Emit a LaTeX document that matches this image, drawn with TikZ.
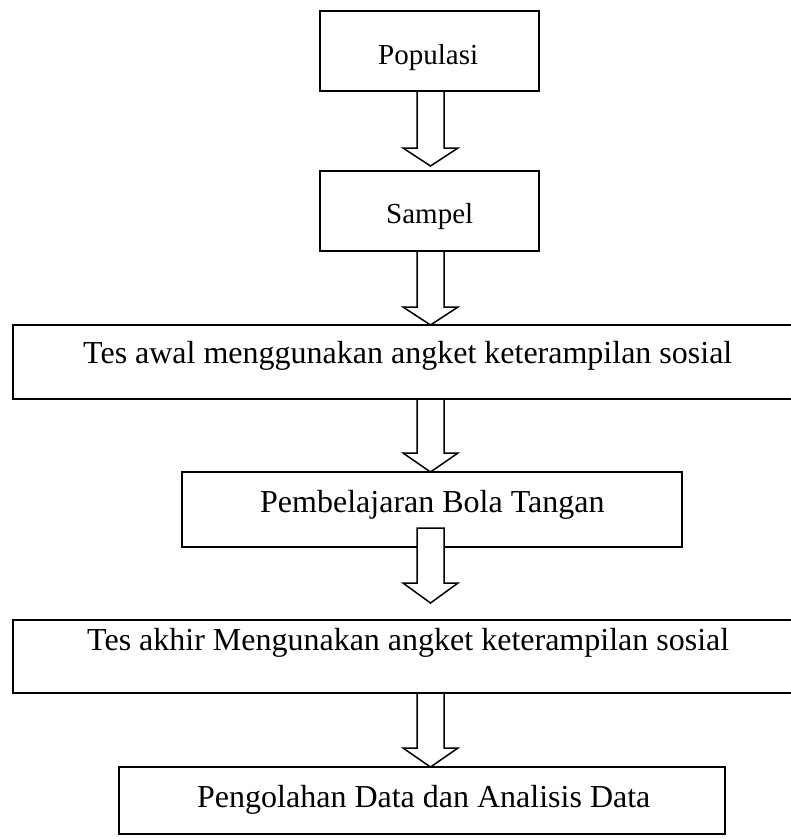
\documentclass[tikz,border=0pt]{standalone}
\usepackage{fontspec}
\setmainfont{Liberation Serif}
\begin{document}
\begin{tikzpicture}[x=1pt,y=-1pt,
  boxline/.style={draw=black,line width=1.5pt,fill=white},
  smalltxt/.style={font=\fontsize{29}{32}\selectfont,anchor=base west,inner sep=0pt},
  bigtxt/.style={font=\fontsize{32}{36}\selectfont,anchor=base west,inner sep=0pt},
  barrowst/.style={draw=black,line width=1.5pt,fill=white,line join=miter}]
\useasboundingbox (0,0) rectangle (791,839);
\newcommand{\blockarrow}[3]{%
  \draw[barrowst] (417,#1) -- (417,#2) -- (403,#2) -- (430.5,#3) -- (458,#2) -- (444,#2) -- (444,#1) -- cycle;}
% boxes
\draw[boxline] (320,11) rectangle (539,91);
\node[smalltxt] (pop) at (378,64) {Populasi};
\draw[boxline] (320,171) rectangle (539,251);
\node[smalltxt] (sam) at (386,223) {Sampel};
\draw[boxline] (13,325) rectangle (800,399);
\node[bigtxt] (awal) at (83,363) {Tes awal menggunakan angket keterampilan sosial};
\draw[boxline] (182,472) rectangle (682,547);
\node[bigtxt] (bola) at (260,512) {Pembelajaran Bola Tangan};
\draw[boxline] (13,620) rectangle (800,693);
\node[bigtxt] (akhir) at (87,650) {Tes akhir Mengunakan angket keterampilan sosial};
\draw[boxline] (119,767) rectangle (725,834);
\node[bigtxt] (olah) at (197,807) {Pengolahan Data dan Analisis Data};
% arrows
\blockarrow{91}{148}{166}
\blockarrow{251}{307}{325}
\blockarrow{399}{453}{472}
\blockarrow{528}{583}{603}
\blockarrow{693}{748}{767}
\end{tikzpicture}
\end{document}
